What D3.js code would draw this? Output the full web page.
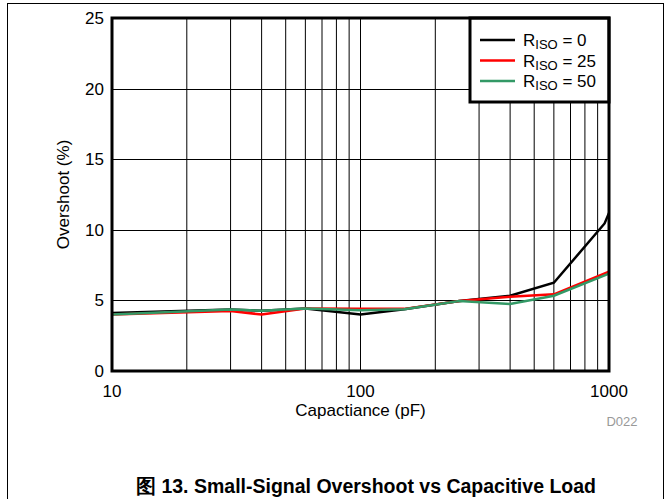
<!DOCTYPE html>
<html>
<head>
<meta charset="utf-8">
<script src="https://cdn.jsdelivr.net/npm/d3@7"></script>
<style>
  body { margin: 0; background: #fff; }
  svg { display: block; font-family: "Liberation Sans", Arial, sans-serif; }
</style>
</head>
<body>
<div id="chart"></div>
<script>
// ---- data ----
const capBlack = [10, 30, 40, 60, 100, 150, 250, 400, 600, 960, 1000];
const riso0    = [4.1, 4.35, 4.27, 4.43, 4.0, 4.38, 4.96, 5.33, 6.25, 10.45, 11.2];

const capRed   = [10, 30, 40, 60, 100, 150, 250, 400, 600, 1000];
const riso25   = [4.0, 4.25, 4.0, 4.43, 4.4, 4.4, 4.96, 5.26, 5.43, 7.03];

const capGreen = [10, 30, 40, 60, 100, 150, 250, 400, 600, 1000];
const riso50   = [4.0, 4.35, 4.27, 4.43, 4.3, 4.37, 4.96, 4.74, 5.33, 6.9];

const yTicks = [0, 5, 10, 15, 20, 25];
const xTicks = [10, 100, 1000];
const legendLabels = ["0", "25", "50"];

const W = 671, H = 499;
const m = { left: 112, top: 18, right: 609, bottom: 371 };

const svg = d3.select('#chart').append('svg')
  .attr('width', W).attr('height', H);

// outer figure frame
svg.append('rect')
  .attr('x', 7.5).attr('y', 3.5)
  .attr('width', 656).attr('height', 520)
  .attr('fill', 'none').attr('stroke', '#000').attr('stroke-width', 1);

const x = d3.scaleLog().domain([10, 1000]).range([m.left, m.right]);
const y = d3.scaleLinear().domain([0, 25]).range([m.bottom, m.top]);

// grid
const vGrid = [100];
[10, 100].forEach(d => { for (let k = 2; k <= 9; k++) vGrid.push(d * k); });
svg.append('g').selectAll('line').data(vGrid).enter().append('line')
  .attr('x1', d => x(d)).attr('x2', d => x(d))
  .attr('y1', m.top).attr('y2', m.bottom)
  .attr('stroke', '#000').attr('stroke-width', 1);
svg.append('g').selectAll('line').data(yTicks.slice(1, -1)).enter().append('line')
  .attr('x1', m.left).attr('x2', m.right)
  .attr('y1', d => Math.round(y(d)) + 0.5).attr('y2', d => Math.round(y(d)) + 0.5)
  .attr('stroke', '#000').attr('stroke-width', 1);

// series
const line = d3.line().x(d => x(d[0])).y(d => y(d[1]));
const series = [
  { cap: capBlack, val: riso0,  color: '#000000' },
  { cap: capRed,   val: riso25, color: '#ff0000' },
  { cap: capGreen, val: riso50, color: '#339966' }
];
series.forEach(s => {
  svg.append('path')
    .datum(d3.zip(s.cap, s.val))
    .attr('d', line)
    .attr('fill', 'none')
    .attr('stroke', s.color)
    .attr('stroke-width', 2.5);
});

// legend
const lg = svg.append('g');
lg.append('rect')
  .attr('x', 470).attr('y', m.top)
  .attr('width', m.right - 470).attr('height', 84)
  .attr('fill', '#fff').attr('stroke', '#000').attr('stroke-width', 3);
series.forEach((s, i) => {
  const ly = 40 + i * 20.5;
  lg.append('line')
    .attr('x1', 480).attr('x2', 515).attr('y1', ly).attr('y2', ly)
    .attr('stroke', s.color).attr('stroke-width', 2.5);
  const t = lg.append('text')
    .attr('x', 523).attr('y', ly + 6)
    .attr('font-size', 17).attr('fill', '#000');
  t.append('tspan').text('R');
  t.append('tspan').attr('font-size', 13).attr('dy', 3).text('ISO');
  t.append('tspan').attr('dy', -3).text(' = ' + legendLabels[i]);
});

// plot frame
svg.append('rect')
  .attr('x', m.left).attr('y', m.top)
  .attr('width', m.right - m.left).attr('height', m.bottom - m.top)
  .attr('fill', 'none').attr('stroke', '#000').attr('stroke-width', 3);

// tick labels
svg.append('g').selectAll('text').data(yTicks).enter().append('text')
  .attr('x', 104).attr('y', d => y(d) + 6)
  .attr('text-anchor', 'end').attr('font-size', 17).attr('fill', '#000')
  .text(d => d);
svg.append('g').selectAll('text').data(xTicks).enter().append('text')
  .attr('x', d => x(d)).attr('y', 397)
  .attr('text-anchor', 'middle').attr('font-size', 17).attr('fill', '#000')
  .text(d => d);

// axis titles
svg.append('text')
  .attr('x', (m.left + m.right) / 2).attr('y', 416)
  .attr('text-anchor', 'middle').attr('font-size', 17).attr('fill', '#000')
  .text('Capactiance (pF)');
svg.append('text')
  .attr('transform', `translate(69,${(m.top + m.bottom) / 2}) rotate(-90)`)
  .attr('text-anchor', 'middle').attr('font-size', 17).attr('fill', '#000')
  .text('Overshoot (%)');

svg.append('text')
  .attr('x', 622).attr('y', 426)
  .attr('text-anchor', 'middle').attr('font-size', 13).attr('fill', '#999')
  .text('D022');

// caption
svg.append('text')
  .attr('x', 366).attr('y', 493)
  .attr('text-anchor', 'middle').attr('font-size', 19.5).attr('font-weight', 'bold')
  .attr('fill', '#000')
  .text('图 13. Small-Signal Overshoot vs Capacitive Load');
</script>
</body>
</html>
